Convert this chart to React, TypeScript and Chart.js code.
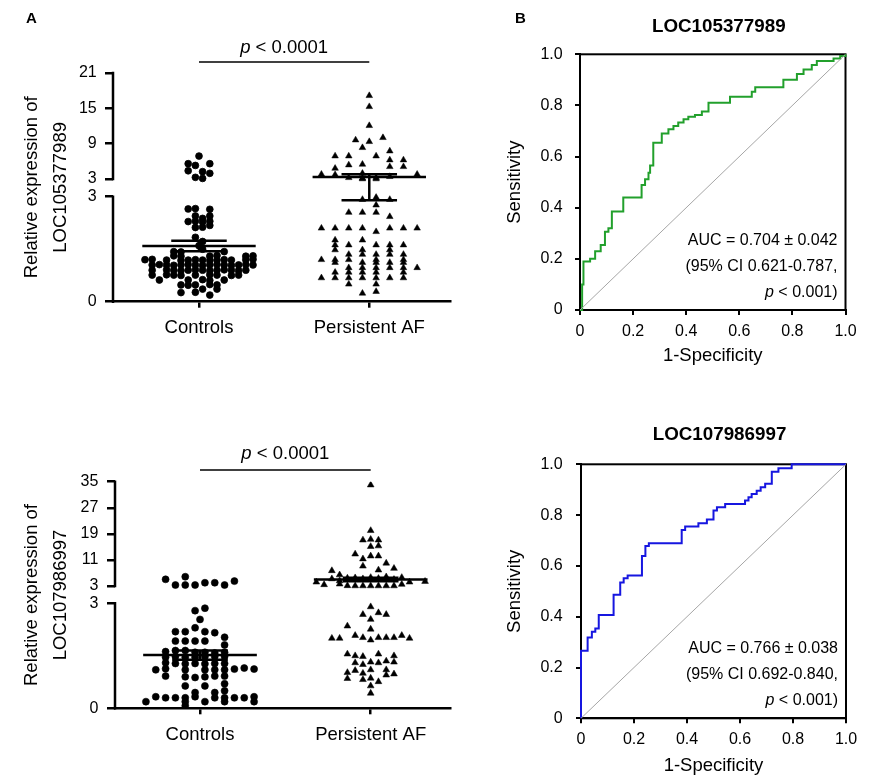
import React, { useEffect, useRef } from 'react';
import { Chart, registerables } from 'chart.js';

Chart.register(...registerables);

const FONT = "'Liberation Sans', Arial, Helvetica, sans-serif";
const BLACK = '#000000';
Chart.defaults.font.family = FONT;
Chart.defaults.color = BLACK;

// ---------------- shared text ----------------
const groupLabels = ['Controls', 'Persistent AF'];
const pValueLabel = '< 0.0001';
const a1YTitle = ['Relative expression of', 'LOC105377989'];
const a2YTitle = ['Relative expression of', 'LOC107986997'];

// ---------------- Panel A (top): LOC105377989 ----------------
const a1LowerTicks = [0, 3];
const a1UpperTicks = [3, 9, 15, 21];

const a1CtrlValues = [
  6.9, 5.6, 5.6, 5.3, 4.4, 4.25, 3.96, 3.28, 3.1,
  2.65, 2.66, 2.64,
  2.45, 2.38, 2.45,
  2.29, 2.3, 2.28, 2.3,
  2.12, 2.13, 2.18,
  1.84, 1.72, 1.6, 1.5,
  1.43, 1.42, 1.43,
  1.31, 1.3, 1.3, 1.32, 1.3, 1.31,
  1.2, 1.21, 1.19, 1.18, 1.19, 1.2, 1.19, 1.18, 1.19, 1.2, 1.19, 1.2, 1.21,
  1.05, 1.06, 1.05, 1.04, 1.05, 1.06, 1.05, 1.04, 1.05, 1.06, 1.05, 1.04, 1.05, 1.06, 1.05,
  0.9, 0.91, 0.9, 0.89, 0.9, 0.91, 0.9, 0.89, 0.9, 0.91, 0.9, 0.89, 0.9,
  0.76, 0.77, 0.76, 0.75, 0.76, 0.77, 0.76, 0.75, 0.76,
  0.62, 0.62, 0.63, 0.61, 0.62,
  0.48, 0.47, 0.48, 0.49, 0.48,
  0.36, 0.36, 0.26, 0.27, 0.19,
];
const a1CtrlSlots = [
  0, -1.5, 1.5, -0.5, -1.5, 0.5, 1.5, -0.5, 0.5,
  -1.5, -0.5, 1.5,
  -0.5, 0.5, 1.5,
  -1.5, -0.5, 0.5, 1.5,
  -0.5, 0.5, 1.5,
  -0.5, 0.5, 0, 0.5,
  -3.5, -2.5, 3.5,
  -3.5, -2.5, 1.5, 2.5, 6.5, 7.5,
  -7.5, -6.5, -4.5, -2.5, -1.5, -0.5, 0.5, 1.5, 2.5, 3.5, 4.5, 6.5, 7.5,
  -6.5, -5.5, -4.5, -3.5, -2.5, -1.5, -0.5, 0.5, 1.5, 2.5, 3.5, 4.5, 5.5, 6.5, 7.5,
  -6.5, -4.5, -3.5, -2.5, -1.5, -0.5, 0.5, 1.5, 2.5, 3.5, 4.5, 5.5, 6.5,
  -6.5, -4.5, -3.5, -2.5, -0.5, 1.5, 2.5, 4.5, 5.5,
  -5.5, -1.5, 0.5, 1.5, 3.5,
  -2.5, -1.5, -0.5, 1.5, 2.5,
  0.5, 2.5, -2.5, -0.5, 1.5,
];
const a1AfValues = [
  17.15, 15.28, 12.06, 10.02, 9.62, 9.34, 8.32, 7.75,
  6.9, 6.9, 6.9, 6.23, 6.23, 5.49, 5.38, 5.09, 5.09, 4.81,
  3.8, 3.73, 3.22, 3.96, 3.15, 3.22, 3.4, 3.8, 3.02, 3.02,
  2.92, 2.98, 2.92, 2.76, 2.55, 2.55, 2.55, 2.43,
  2.1, 2.1, 2.1, 2.1, 2.1, 2.1, 2.1, 2.0,
  1.76, 1.76,
  1.62, 1.62, 1.62, 1.62, 1.62,
  1.48, 1.48, 1.48,
  1.35, 1.35, 1.35, 1.35, 1.35,
  1.2, 1.2, 1.2, 1.2, 1.2,
  1.12, 1.12, 1.12, 1.12, 1.12,
  0.97, 0.97, 0.97, 0.97, 0.97, 0.97,
  0.84, 0.84, 0.84, 0.84, 0.84,
  0.68, 0.68, 0.68, 0.68, 0.68, 0.68, 0.68,
  0.5, 0.5, 0.29, 0.24,
];
const a1AfSlots = [
  0, 0, 0, 1, -1, 0, -0.5, 1.5,
  -2.5, -1.5, 0.5, 1.5, 2.5, -0.5, -1.5, 1.5, 2.5, -2.5,
  -3.5, -2.5, -1.5, -0.5, -0.5, 0.5, 1.5, 3.5, -0.5, 0.5,
  -0.5, 0.5, 1.5, 0.5, -1.5, -0.5, 0.5, 1.5,
  -3.5, -2.5, -1.5, -0.5, 1.5, 2.5, 3.5, 0.5,
  -2.5, -0.5,
  -2.5, -1.5, 0.5, 1.5, 2.5,
  -2.5, -0.5, 1.5,
  -1.5, -0.5, 0.5, 1.5, 2.5,
  -3.5, -2.5, -1.5, 0.5, 2.5,
  -2.5, -0.5, 0.5, 1.5, 2.5,
  -1.5, -0.5, 0.5, 1.5, 2.5, 3.5,
  -2.5, -1.5, -0.5, 0.5, 2.5,
  -3.5, -2.5, -1.5, -0.5, 0.5, 1.5, 2.5,
  -1.5, 0.5, 0.5, -0.5,
];
const a1CtrlMean = 1.59;
const a1CtrlSem = 0.15;
const a1AfMean = 3.35;
const a1AfSem = 0.45;

// ---------------- Panel A (bottom): LOC107986997 ----------------
const a2LowerTicks = [0, 3];
const a2UpperTicks = [3, 11, 19, 27, 35];

const a2CtrlValues = [
  5.05, 5.85, 3.3, 3.3, 3.3, 4.0, 4.0, 3.3, 4.5,
  2.79, 2.86, 2.54, 2.3,
  2.19, 2.19, 2.19, 2.16, 2.03,
  1.92, 1.92, 1.92, 1.92, 1.81,
  1.62, 1.65, 1.65, 1.6, 1.6, 1.58, 1.6,
  1.46, 1.48, 1.46, 1.46, 1.48, 1.48, 1.48,
  1.3, 1.28, 1.27, 1.28, 1.27, 1.28, 1.28,
  1.1, 1.13, 1.1, 1.1, 1.1, 1.1, 1.12, 1.15, 1.12,
  0.92, 0.9, 0.88, 0.9, 0.92, 0.92,
  0.64, 0.64, 0.7,
  0.45, 0.45, 0.5,
  0.33, 0.3, 0.3, 0.3, 0.33, 0.3, 0.3, 0.3, 0.3, 0.33,
  0.19, 0.19, 0.19, 0.19, 0.19,
  0.07,
];
const a2CtrlSlots = [
  -3.5, -1.5, -2.5, -1.5, -0.5, 0.5, 1.5, 2.5, 3.5,
  -0.5, 0.5, 0, -0.5,
  -2.5, -1.5, 0.5, 1.5, 2.5,
  -2.5, -1.5, -0.5, 0.5, 2.5,
  -3.5, -2.5, -1.5, -0.5, 0.5, 1.5, 2.5,
  -3.5, -2.5, -1.5, -0.5, 0.5, 1.5, 2.5,
  -3.5, -2.5, -1.5, -0.5, 0.5, 1.5, 2.5,
  -4.5, -3.5, -1.5, 0.5, 1.5, 2.5, 3.5, 4.5, 5.5,
  -3.5, -1.5, -0.5, 0.5, 1.5, 2.5,
  -1.5, 0.5, 2.5,
  -0.5, 1.5, 2.5,
  -4.5, -3.5, -2.5, -1.5, -0.5, 1.5, 2.5, 3.5, 4.5, 5.5,
  -5.5, -1.5, 0.5, 2.5, 5.5,
  -1.5,
];
const a2AfValues = [
  34.0, 20.0, 17.1, 17.3, 17.1, 15.1, 15.3, 12.8, 12.2, 12.2, 11.3, 9.1, 10.0, 7.9, 8.4, 7.7, 6.4,
  5.2, 5.4, 5.5, 5.2, 5.6, 5.3, 5.8, 5.0, 5.6,
  4.2, 4.6, 4.2, 4.4,
  3.4, 3.6, 3.1, 3.05, 3.05, 3.05, 3.05, 3.05, 3.05, 3.5,
  2.9, 2.68, 2.73, 2.68, 2.54, 2.35, 2.26,
  2.0, 2.0, 2.08, 2.02, 1.95, 2.02, 2.02, 2.02, 2.08, 2.0,
  1.55, 1.5, 1.48, 1.55, 1.5,
  1.3, 1.25, 1.32, 1.3, 1.35, 1.32,
  1.02, 1.08, 1.0, 1.1, 1.1, 0.98,
  0.85, 0.82, 0.86, 0.76, 0.95,
  0.64, 0.43,
];
const a2AfSlots = [
  0, 0, -1, 0, 1, 0, 1, -2, 0, 1, -1, -1, 2, 1, 3, -5, -4,
  -5, -3, -2, -1, 0, 1, 2, 3, 4,
  -7, -4, 5, 7,
  -6, -4, -3, -2, -1, 0, 1, 2, 3, 4,
  0, -1, 1, 2, 0, -3, 0,
  -5, -4, -2, -1, 0, 1, 2, 3, 4, 5,
  -3, -2, -1, 1, 3,
  -2, -1, 0, 1, 2, 3,
  -3, -2, -1, 0, 2, 3,
  -3, -1, 0, 1, 2,
  0, 0,
];
const a2CtrlMean = 1.52;
const a2CtrlSem = 0.13;
const a2AfMean = 5.0;
const a2AfSem = 0.55;

// ---------------- Panel B: ROC curves ----------------
const rocDiagX = [0, 1];
const rocDiagY = [0, 1];

const roc1Title = 'LOC105377989';
const roc1Auc = 'AUC = 0.704 \u00b1 0.042';
const roc1Ci = '(95% CI 0.621-0.787,';
const roc1Fpr = [0, 0.008, 0.013, 0.038, 0.057, 0.078, 0.094, 0.107, 0.12, 0.163, 0.232, 0.245, 0.258, 0.264, 0.276, 0.308, 0.333, 0.352, 0.37, 0.39, 0.408, 0.433, 0.459, 0.484, 0.565, 0.647, 0.66, 0.766, 0.817, 0.842, 0.873, 0.892, 0.955, 0.98, 1.0];
const roc1Tpr = [0, 0.1, 0.19, 0.2, 0.23, 0.254, 0.306, 0.32, 0.385, 0.44, 0.489, 0.511, 0.537, 0.565, 0.654, 0.69, 0.707, 0.72, 0.733, 0.746, 0.756, 0.763, 0.776, 0.811, 0.834, 0.854, 0.871, 0.9, 0.923, 0.941, 0.958, 0.974, 0.984, 0.993, 1.0];

const roc2Title = 'LOC107986997';
const roc2Auc = 'AUC = 0.766 \u00b1 0.038';
const roc2Ci = '(95% CI 0.692-0.840,';
const roc2Fpr = [0, 0, 0.025, 0.041, 0.054, 0.067, 0.123, 0.148, 0.161, 0.176, 0.23, 0.243, 0.256, 0.38, 0.393, 0.443, 0.475, 0.5, 0.513, 0.544, 0.619, 0.632, 0.644, 0.663, 0.678, 0.695, 0.72, 0.745, 0.795, 1.0];
const roc2Tpr = [0, 0.266, 0.318, 0.341, 0.354, 0.407, 0.486, 0.535, 0.551, 0.562, 0.639, 0.678, 0.689, 0.741, 0.755, 0.768, 0.783, 0.818, 0.831, 0.844, 0.857, 0.87, 0.883, 0.896, 0.91, 0.923, 0.971, 0.984, 1.0, 1.0];
const rocPText = '< 0.001)';

// ---------------- layout / style constants ----------------
const MEAN_HALF = 0.333;
const SEM_HALF = 0.163;

function scatterDecor(brk: any, s: any) {
  return {
    id: 'scatterDecor',
    afterDraw(chart: any) {
      const { ctx, chartArea: ca, scales } = chart;
      const y = scales.y;
      const x = scales.x;
      ctx.save();
      ctx.strokeStyle = BLACK;
      ctx.lineWidth = 2.5;
      ctx.lineCap = 'butt';
      ctx.beginPath();
      ctx.moveTo(ca.left, y.getPixelForValue(0) + 1.25);
      ctx.lineTo(ca.left, y.getPixelForValue(brk.breakAt) - 1.25);
      ctx.moveTo(ca.left, y.getPixelForValue(brk.upperStart) + 1.25);
      ctx.lineTo(ca.left, y.getPixelForValue(brk.top) - 1.25);
      ctx.stroke();

      const x0 = x.getPixelForValue(0);
      const x1 = x.getPixelForValue(1);
      ctx.lineWidth = 1.5;
      ctx.beginPath();
      ctx.moveTo(x0, ca.top - s.pLine);
      ctx.lineTo(x1, ca.top - s.pLine);
      ctx.stroke();

      ctx.fillStyle = BLACK;
      ctx.textBaseline = 'alphabetic';
      ctx.textAlign = 'left';
      ctx.font = `italic 18.5px ${FONT}`;
      const wp = ctx.measureText('p').width;
      ctx.font = `18.5px ${FONT}`;
      const rest = ' ' + pValueLabel;
      const wr = ctx.measureText(rest).width;
      const sx = (x0 + x1) / 2 - (wp + wr) / 2;
      ctx.fillText(rest, sx + wp, ca.top - s.pText);
      ctx.font = `italic 18.5px ${FONT}`;
      ctx.fillText('p', sx, ca.top - s.pText);

      if (s.panel) {
        ctx.font = `bold 15px ${FONT}`;
        ctx.fillText(s.panel.text, s.panel.x, s.panel.y);
      }
      ctx.restore();
    },
  };
}

function scatterConfig(s: any) {
  const breakAt = s.lowerTicks[s.lowerTicks.length - 1];
  const upperMax = s.upperTicks[s.upperTicks.length - 1];
  const upperStart = breakAt + s.gap;
  const k = s.upperSpan / (upperMax - breakAt);
  const toUpper = (v: number) => upperStart + (v - breakAt) * k;
  const toV = (v: number) => (v > breakAt ? toUpper(v) : v);
  const top = upperStart + s.upperSpan;
  const tickPos = [...s.lowerTicks, ...s.upperTicks.map(toUpper)];
  const tickText = [...s.lowerTicks, ...s.upperTicks].map(String);

  const datasets: any[] = [];
  s.groups.forEach((g: any, gi: number) => {
    datasets.push({
      data: g.values.map((v: number, i: number) => ({ x: gi + g.slots[i] * g.slotWidth, y: toV(v) })),
      pointStyle: g.style,
      pointRadius: g.radius,
      pointHoverRadius: g.radius,
      pointBorderWidth: g.border,
      pointBackgroundColor: BLACK,
      pointBorderColor: BLACK,
      showLine: false,
    });
  });
  const seg = (x0: number, y0: number, x1: number, y1: number) => ({
    data: [{ x: x0, y: y0 }, { x: x1, y: y1 }],
    showLine: true,
    borderColor: BLACK,
    borderWidth: 2.5,
    borderCapStyle: 'butt',
    pointRadius: 0,
    pointHoverRadius: 0,
  });
  s.groups.forEach((g: any, gi: number) => {
    const m = toV(g.mean);
    const hi = toV(g.mean + g.sem);
    const lo = toV(g.mean - g.sem);
    datasets.push(seg(gi - MEAN_HALF, m, gi + MEAN_HALF, m));
    datasets.push(seg(gi - SEM_HALF, hi, gi + SEM_HALF, hi));
    datasets.push(seg(gi - SEM_HALF, lo, gi + SEM_HALF, lo));
    datasets.push(seg(gi, lo, gi, hi));
  });

  return {
    type: 'scatter',
    data: { datasets },
    options: {
      responsive: false,
      animation: false,
      devicePixelRatio: 1,
      events: [],
      layout: { padding: { top: s.padTop, right: s.padRight, bottom: 0, left: 0 } },
      plugins: { legend: { display: false }, tooltip: { enabled: false } },
      scales: {
        x: {
          type: 'linear',
          min: s.xMin,
          max: s.xMax,
          afterBuildTicks: (ax: any) => {
            ax.ticks = groupLabels.map((_, i) => ({ value: i }));
          },
          afterFit: (ax: any) => {
            ax.height = s.xHeight;
          },
          ticks: {
            autoSkip: false,
            maxRotation: 0,
            minRotation: 0,
            color: BLACK,
            padding: s.xTickPad,
            font: { family: FONT, size: 18.5 },
            callback: (_v: any, i: number) => groupLabels[i],
          },
          grid: { display: true, drawOnChartArea: false, drawTicks: true, tickLength: 6, lineWidth: 2.5, color: BLACK },
          border: { display: true, width: 2.5, color: BLACK },
        },
        y: {
          type: 'linear',
          min: 0,
          max: top,
          afterBuildTicks: (ax: any) => {
            ax.ticks = tickPos.map((v) => ({ value: v }));
          },
          afterFit: (ax: any) => {
            ax.width = s.yWidth;
          },
          ticks: {
            autoSkip: false,
            color: BLACK,
            padding: s.yTickPad,
            font: { family: FONT, size: 16 },
            callback: (_v: any, i: number) => tickText[i],
          },
          grid: { display: true, drawOnChartArea: false, drawTicks: true, tickLength: 8, lineWidth: 2.5, color: BLACK },
          border: { display: false },
          title: {
            display: true,
            text: s.title,
            color: BLACK,
            font: { family: FONT, size: 18.5, lineHeight: 1.53 },
            padding: { top: s.titlePad, bottom: 0 },
          },
        },
      },
    },
    plugins: [scatterDecor({ breakAt, upperStart, top }, s)],
  };
}

function rocDecor(r: any) {
  return {
    id: 'rocDecor',
    beforeDatasetsDraw(chart: any) {
      const { ctx, chartArea: ca } = chart;
      ctx.save();
      ctx.strokeStyle = BLACK;
      ctx.lineWidth = 2;
      ctx.strokeRect(ca.left, ca.top, ca.right - ca.left, ca.bottom - ca.top);
      ctx.restore();
    },
    afterDraw(chart: any) {
      const { ctx, chartArea: ca } = chart;
      ctx.save();
      ctx.fillStyle = BLACK;
      ctx.font = `bold 18.8px ${FONT}`;
      ctx.textAlign = 'center';
      ctx.textBaseline = 'middle';
      ctx.fillText(r.title, (ca.left + ca.right) / 2 + 6, ca.top - r.titleGap);

      ctx.font = `16px ${FONT}`;
      ctx.textAlign = 'right';
      ctx.textBaseline = 'alphabetic';
      const xr = ca.right - 8;
      ctx.fillText(r.auc, xr, ca.bottom - 65);
      ctx.fillText(r.ci, xr, ca.bottom - 39);
      const rest = ' ' + rocPText;
      const wr = ctx.measureText(rest).width;
      ctx.fillText(rest, xr, ca.bottom - 13);
      ctx.font = `italic 16px ${FONT}`;
      ctx.fillText('p', xr - wr, ca.bottom - 13);

      if (r.panel) {
        ctx.font = `bold 15px ${FONT}`;
        ctx.textAlign = 'left';
        ctx.fillText(r.panel.text, r.panel.x, r.panel.y);
      }
      ctx.restore();
    },
  };
}

const fmtRoc = (v: any) => (Number(v) === 0 ? '0' : Number(v).toFixed(1));

function rocConfig(r: any) {
  return {
    type: 'scatter',
    data: {
      datasets: [
        {
          data: rocDiagX.map((x, i) => ({ x, y: rocDiagY[i] })),
          showLine: true,
          borderColor: '#a6a6a6',
          borderWidth: 1,
          pointRadius: 0,
          pointHoverRadius: 0,
        },
        {
          data: r.fpr.map((x: number, i: number) => ({ x, y: r.tpr[i] })),
          showLine: true,
          stepped: 'before',
          borderColor: r.color,
          borderWidth: 2,
          pointRadius: 0,
          pointHoverRadius: 0,
          clip: false,
        },
      ],
    },
    options: {
      responsive: false,
      animation: false,
      devicePixelRatio: 1,
      events: [],
      layout: { padding: { top: r.padTop, right: r.padRight, bottom: 0, left: 0 } },
      plugins: { legend: { display: false }, tooltip: { enabled: false } },
      scales: {
        x: {
          type: 'linear',
          min: 0,
          max: 1,
          afterFit: (ax: any) => {
            ax.height = r.xHeight;
          },
          ticks: { stepSize: 0.2, autoSkip: false, maxRotation: 0, color: BLACK, padding: 7, font: { family: FONT, size: 16 }, callback: fmtRoc },
          grid: { display: true, drawOnChartArea: false, drawTicks: true, tickLength: 5, lineWidth: 2, color: BLACK },
          border: { display: true, width: 2, color: BLACK },
          title: {
            display: true,
            text: '1-Specificity',
            color: BLACK,
            font: { family: FONT, size: 18.5 },
            padding: { top: 0, bottom: r.xTitlePad },
          },
        },
        y: {
          type: 'linear',
          min: 0,
          max: 1,
          afterFit: (ax: any) => {
            ax.width = r.yWidth;
          },
          ticks: { stepSize: 0.2, autoSkip: false, color: BLACK, padding: r.yTickPad, font: { family: FONT, size: 16 }, callback: fmtRoc },
          grid: { display: true, drawOnChartArea: false, drawTicks: true, tickLength: 5, lineWidth: 2, color: BLACK },
          border: { display: true, width: 2, color: BLACK },
          title: {
            display: true,
            text: 'Sensitivity',
            color: BLACK,
            font: { family: FONT, size: 18.5 },
            padding: { top: 33.9, bottom: 0 },
          },
        },
      },
    },
    plugins: [rocDecor(r)],
  };
}

const buildA1 = () =>
  scatterConfig({
    lowerTicks: a1LowerTicks,
    upperTicks: a1UpperTicks,
    gap: 0.506,
    upperSpan: 3.029,
    xMin: -0.505,
    xMax: 1.474,
    yWidth: 113,
    xHeight: 58.3,
    padTop: 73,
    padRight: 10,
    yTickPad: 8.3,
    xTickPad: 9,
    titlePad: 18,
    title: a1YTitle,
    pLine: 11,
    pText: 20.3,
    panel: { text: 'A', x: 26, y: 23.3 },
    groups: [
      { values: a1CtrlValues, slots: a1CtrlSlots, slotWidth: 0.0423, style: 'circle', radius: 3.4, border: 0.8, mean: a1CtrlMean, sem: a1CtrlSem },
      { values: a1AfValues, slots: a1AfSlots, slotWidth: 0.0803, style: 'triangle', radius: 3.8, border: 0.5, mean: a1AfMean, sem: a1AfSem },
    ],
  });

const buildA2 = () =>
  scatterConfig({
    lowerTicks: a2LowerTicks,
    upperTicks: a2UpperTicks,
    gap: 0.494,
    upperSpan: 2.98,
    xMin: -0.498,
    xMax: 1.4646,
    yWidth: 115,
    xHeight: 75.7,
    padTop: 89.7,
    padRight: 10,
    yTickPad: 8.7,
    xTickPad: 9.6,
    titlePad: 18,
    title: a2YTitle,
    pLine: 11.7,
    pText: 22.4,
    groups: [
      { values: a2CtrlValues, slots: a2CtrlSlots, slotWidth: 0.0576, style: 'circle', radius: 3.5, border: 0.6, mean: a2CtrlMean, sem: a2CtrlSem },
      { values: a2AfValues, slots: a2AfSlots, slotWidth: 0.0455, style: 'triangle', radius: 3.9, border: 0.5, mean: a2AfMean, sem: a2AfSem },
    ],
  });

const buildB1 = () =>
  rocConfig({
    fpr: roc1Fpr,
    tpr: roc1Tpr,
    color: '#22a02c',
    title: roc1Title,
    auc: roc1Auc,
    ci: roc1Ci,
    titleGap: 27.6,
    padTop: 54.3,
    padRight: 32.5,
    xHeight: 82,
    yWidth: 110,
    yTickPad: 12.3,
    xTitlePad: 24.9,
    panel: { text: 'B', x: 45, y: 22.7 },
  });

const buildB2 = () =>
  rocConfig({
    fpr: roc2Fpr,
    tpr: roc2Tpr,
    color: '#1616e0',
    title: roc2Title,
    auc: roc2Auc,
    ci: roc2Ci,
    titleGap: 29,
    padTop: 72.3,
    padRight: 32,
    xHeight: 65.7,
    yWidth: 111,
    yTickPad: 13.3,
    xTitlePad: 6.9,
  });

function ChartCanvas({ left, top, width, height, build }: any) {
  const ref = useRef<HTMLCanvasElement>(null);
  useEffect(() => {
    const chart = new Chart(ref.current as HTMLCanvasElement, build());
    return () => chart.destroy();
  }, [build]);
  return (
    <canvas
      ref={ref}
      width={width}
      height={height}
      style={{ position: 'absolute', left, top, width, height, display: 'block' }}
    />
  );
}

export default function App() {
  return (
    <div style={{ position: 'absolute', left: 0, top: 0, width: 878, height: 784, background: '#ffffff', overflow: 'hidden' }}>
      <ChartCanvas left={0} top={0} width={460} height={360} build={buildA1} />
      <ChartCanvas left={0} top={392} width={460} height={392} build={buildA2} />
      <ChartCanvas left={470} top={0} width={408} height={392} build={buildB1} />
      <ChartCanvas left={470} top={392} width={408} height={392} build={buildB2} />
    </div>
  );
}
